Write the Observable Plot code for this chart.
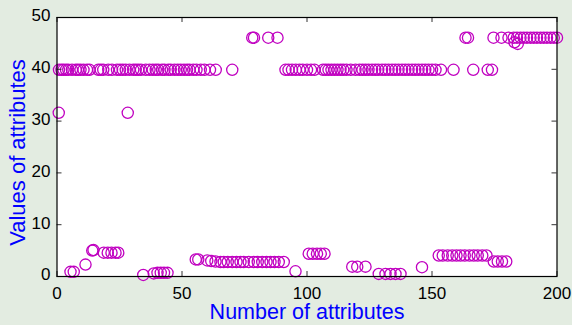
<!DOCTYPE html>
<html><head><meta charset="utf-8">
<script src="https://cdn.jsdelivr.net/npm/d3@7"></script>
<script src="https://cdn.jsdelivr.net/npm/@observablehq/plot@0.6"></script>
<style>html,body{margin:0;padding:0;background:#e3ece1;} svg{display:block}</style>
</head><body><div id="chart"></div>
<script>
const xTicks = [0, 50, 100, 150, 200];
const yTicks = [0, 10, 20, 30, 40, 50];

// attributes near 40
const highValue = 39.9;
const highX = [0.8, 1.8, 2.6, 3.6, 4.5, 6, 7.5, 8.4, 9.4, 10.6, 12, 13, 16.5, 17.5, 18.5, 20.5, 22, 24, 25.2, 26.3, 27.5, 29, 30.5, 31.5, 32.5, 33.6, 35.5, 37, 38.3, 39.5, 40.5, 42, 43, 44.5, 45.5, 47, 48.3, 49.5, 50.8, 52, 53, 54.5, 55.8, 57.5, 59, 61.2, 63.5, 70.1,
  91.4, 92.6, 94, 95.5, 97, 98.3, 100, 101.6, 103, 106.4, 107.5, 108.6, 109.8, 111, 112.2, 113.4, 114.5, 115.8, 117.5, 119.4, 121, 122.2, 123.4, 124.6, 126, 127.3, 128.5, 130, 131.3, 132.6, 134, 135.3, 136.6, 138, 139.3, 140.6, 142, 143.3, 144.6, 146, 147.3, 148.6, 150, 151.4, 153.6, 158.6, 166.5, 172.3, 174];

// attributes near 46
const topValue = 46.1;
const topX = [78.1, 78.8, 84.5, 88.2, 163.4, 164.4, 174.6, 177.8, 180.6, 182.7, 184, 185.4, 186.7, 188, 189.4, 190.7, 192, 193.4, 194.7, 196, 197.4, 198.7, 200];

// other attributes
const otherX = [0.7, 28.3, 183, 184.3];
const otherY = [31.6, 31.6, 45.2, 44.9];

// low-valued attributes
const lowX = [5.4, 6.7, 11.4, 14.1, 14.6, 18.7, 20.3, 21.8, 23.4, 24.5, 34.5, 38.7, 40.2, 41.5, 42.8, 44.2, 55.5, 56.5,
  60.1, 61.7, 63.4, 65.4, 66.7, 68.3, 70.1, 71.8, 73.4, 74.7, 76.7, 78.7, 80.3, 82.1, 83.8, 85.4, 87, 88.7, 90.7,
  95.4, 100.7, 102.3, 104, 105.5, 107, 118.1, 120.1, 123.4, 128.7, 131.4, 133.4, 135.4, 137.4, 146,
  152.7, 154.3, 156.3, 158.1, 159.8, 161.4, 163.1, 165, 166.7, 168.3, 170.1, 171.8, 174.7, 176.3, 178, 179.7];
const lowY = [0.9, 0.9, 2.3, 5.0, 5.1, 4.6, 4.6, 4.6, 4.6, 4.6, 0.3, 0.6, 0.7, 0.7, 0.7, 0.7, 3.3, 3.3,
  3.1, 3.0, 2.9, 2.8, 2.8, 2.8, 2.8, 2.8, 2.8, 2.8, 2.8, 2.8, 2.8, 2.8, 2.8, 2.8, 2.8, 2.8, 2.8,
  1.0, 4.4, 4.4, 4.4, 4.4, 4.4, 1.9, 1.9, 1.9, 0.5, 0.5, 0.5, 0.5, 0.5, 1.8,
  4.05, 4.05, 4.05, 4.05, 4.05, 4.05, 4.05, 4.05, 4.05, 4.05, 4.05, 4.05, 2.9, 2.9, 2.9, 2.9];

const points = [
  ...highX.map(x => ({x, y: highValue})),
  ...topX.map(x => ({x, y: topValue})),
  ...otherX.map((x, i) => ({x, y: otherY[i]})),
  ...lowX.map((x, i) => ({x, y: lowY[i]}))
];

const W = 572, H = 325, mL = 56.5, mR = 15.5, mT = 17, mB = 49;
const innerW = W - mL - mR, innerH = H - mT - mB;
const tickLen = 5;
const font = "'Liberation Sans', Arial, Helvetica, sans-serif";

const chart = Plot.plot({
  width: W, height: H,
  marginLeft: mL, marginRight: mR, marginTop: mT, marginBottom: mB,
  style: {background: "#e3ece1", fontFamily: font, fontSize: "17px", color: "black"},
  x: {domain: [0, 200]},
  y: {domain: [0, 50]},
  marks: [
    Plot.frame({fill: "white", stroke: null}),
    Plot.dot(points, {x: "x", y: "y", r: 5.6, stroke: "#c000c0", strokeWidth: 1.3, fill: "none"}),
    Plot.tickX(xTicks, {x: d => d, insetTop: innerH - tickLen, stroke: "#333"}),
    Plot.tickX(xTicks, {x: d => d, insetBottom: innerH - tickLen, stroke: "#333"}),
    Plot.tickY(yTicks, {y: d => d, insetRight: innerW - tickLen, stroke: "#333"}),
    Plot.tickY(yTicks, {y: d => d, insetLeft: innerW - tickLen, stroke: "#333"}),
    Plot.frame({stroke: "black", strokeWidth: 1.2}),
    Plot.axisX({ticks: xTicks, tickSize: 0, tickPadding: 10.5, label: null, fontSize: 17, fill: "black"}),
    Plot.axisY({ticks: yTicks, tickSize: 0, tickPadding: 6.5, label: null, fontSize: 17, dy: -1.5, fill: "black"}),
    Plot.text(["Number of attributes"], {text: d => d, frameAnchor: "bottom", dy: 27.5, lineAnchor: "top", textAnchor: "middle", fill: "#0000ff", fontSize: 21.5}),
    Plot.text(["Values of attributes"], {text: d => d, frameAnchor: "left", dx: -39.5, dy: 5.5, rotate: -90, textAnchor: "middle", fill: "#0000ff", fontSize: 22})
  ]
});
document.getElementById("chart").appendChild(chart);
</script>
</body></html>
